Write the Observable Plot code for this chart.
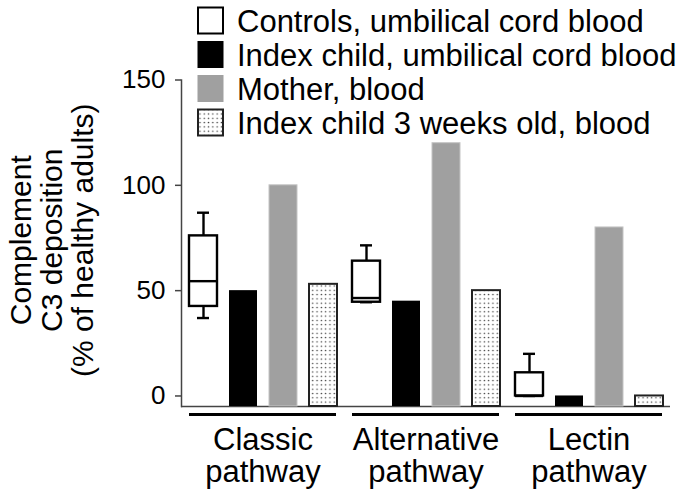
<!DOCTYPE html>
<html><head><meta charset="utf-8">
<script src="https://cdn.jsdelivr.net/npm/d3@7"></script>
<script src="https://cdn.jsdelivr.net/npm/@observablehq/plot@0.6"></script>
<style>body{margin:0;background:#fff}</style>
</head><body><div id="chart"></div>
<script>
const pathways = ["Classic pathway", "Alternative pathway", "Lectin pathway"];
const seriesNames = ["Controls, umbilical cord blood", "Index child, umbilical cord blood", "Mother, blood", "Index child 3 weeks old, blood"];
const controlMin = [37, 44.5, 0];
const controlQ1 = [42.5, 44.5, 0];
const controlMedian = [54.5, 46.5, 0];
const controlQ3 = [76, 64, 11];
const controlMax = [87, 71.5, 20];
const indexCord = [50, 45, 0];
const mother = [100, 120, 80];
const index3w = [53, 50, 0];
const yTicks = [0, 50, 100, 150];
const yMin = -5;
const yMax = 150;
const yTitle = "Complement\nC3 deposition\n(% of healthy adults)";

const boxes = pathways.map((p, i) => ({pathway: p, series: seriesNames[0], min: controlMin[i], q1: controlQ1[i], median: controlMedian[i], q3: controlQ3[i], max: controlMax[i]}));
const cordBars = pathways.map((p, i) => ({pathway: p, series: seriesNames[1], value: indexCord[i]}));
const motherBars = pathways.map((p, i) => ({pathway: p, series: seriesNames[2], value: mother[i]}));
const weekBars = pathways.map((p, i) => ({pathway: p, series: seriesNames[3], value: index3w[i]}));

const chart = Plot.plot({
  width: 685, height: 494,
  marginLeft: 180, marginRight: 15, marginTop: 79.5, marginBottom: 88,
  style: {fontFamily: "'Liberation Sans', Arial, sans-serif", background: "white", color: "black", overflow: "visible"},
  fx: {domain: pathways, padding: 0, axis: null, label: null},
  x: {domain: seriesNames, paddingInner: 0.3, paddingOuter: 0.15, axis: null},
  y: {domain: [yMin, yMax], axis: null},
  marks: [
    Plot.ruleY([yMin], {stroke: "#444", strokeWidth: 1.5}),
    Plot.frame({anchor: "left", facetAnchor: "left", stroke: "#444", strokeWidth: 1.5}),
    Plot.axisY(yTicks, {tickSize: 6, tickPadding: 10, fontSize: 26, stroke: "#444", strokeWidth: 1.5, label: null}),
    Plot.axisFx({anchor: "bottom", tickSize: 0, tickPadding: 21, fontSize: 31, lineHeight: 1.03, label: null, tickFormat: d => d.replace(" ", "\n")}),
    Plot.ruleY([yMin], {dy: 8, insetLeft: 8, insetRight: 8, stroke: "black", strokeWidth: 3.2}),
    Plot.barY(cordBars, {fx: "pathway", x: "series", y1: () => yMin, y2: "value", fill: "black"}),
    Plot.barY(motherBars, {fx: "pathway", x: "series", y1: () => yMin, y2: "value", fill: "#a0a0a0", stroke: "#c4c4c4", strokeWidth: 1}),
    Plot.barY(weekBars, {fx: "pathway", x: "series", y1: () => yMin, y2: "value", fill: "url(#dots)", stroke: "#222", strokeWidth: 2}),
    Plot.ruleX(boxes, {fx: "pathway", x: "series", y1: "min", y2: "q1", stroke: "black", strokeWidth: 2.4}),
    Plot.ruleX(boxes, {fx: "pathway", x: "series", y1: "q3", y2: "max", stroke: "black", strokeWidth: 2.4}),
    Plot.tickY(boxes, {fx: "pathway", x: "series", y: "min", insetLeft: 8, insetRight: 8, stroke: "black", strokeWidth: 2.4}),
    Plot.tickY(boxes, {fx: "pathway", x: "series", y: "max", insetLeft: 8, insetRight: 8, stroke: "black", strokeWidth: 2.4}),
    Plot.barY(boxes, {fx: "pathway", x: "series", y1: "q1", y2: "q3", fill: "white", stroke: "black", strokeWidth: 2.4}),
    Plot.tickY(boxes, {fx: "pathway", x: "series", y: "median", stroke: "black", strokeWidth: 2.4}),
    Plot.text([yTitle], {frameAnchor: "left", facetAnchor: "left", rotate: -90, textAnchor: "middle", dx: -172, dy: -3, lineAnchor: "top", fontSize: 30, lineHeight: 1.03, text: d => d, fill: "black"})
  ]
});

const svg = d3.select(chart);
const defs = svg.insert("defs", ":first-child");
const pat = defs.append("pattern").attr("id", "dots").attr("patternUnits", "userSpaceOnUse")
  .attr("width", 4.3).attr("height", 4.3);
pat.append("rect").attr("width", 4.3).attr("height", 4.3).attr("fill", "white");
pat.append("circle").attr("cx", 2.15).attr("cy", 2.15).attr("r", 0.75).attr("fill", "#333");

const legendStyles = [
  {fill: "white", stroke: "black", sw: 2},
  {fill: "black", stroke: "black", sw: 1},
  {fill: "#a0a0a0", stroke: "#a0a0a0", sw: 1},
  {fill: "url(#dots)", stroke: "#222", sw: 2}
];
const lg = svg.append("g").attr("font-family", "'Liberation Sans', Arial, sans-serif").attr("font-size", 31).attr("text-anchor", "start");
seriesNames.forEach((name, i) => {
  const cy = 20.5 + i * 34;
  const s = legendStyles[i];
  lg.append("rect").attr("x", 198).attr("y", cy - 13).attr("width", 25).attr("height", 26)
    .attr("fill", s.fill).attr("stroke", s.stroke).attr("stroke-width", s.sw);
  lg.append("text").attr("x", 237).attr("y", cy + 11).attr("fill", "black").attr("text-anchor", "start").text(name);
});

document.getElementById("chart").append(chart);
</script>
</body></html>
